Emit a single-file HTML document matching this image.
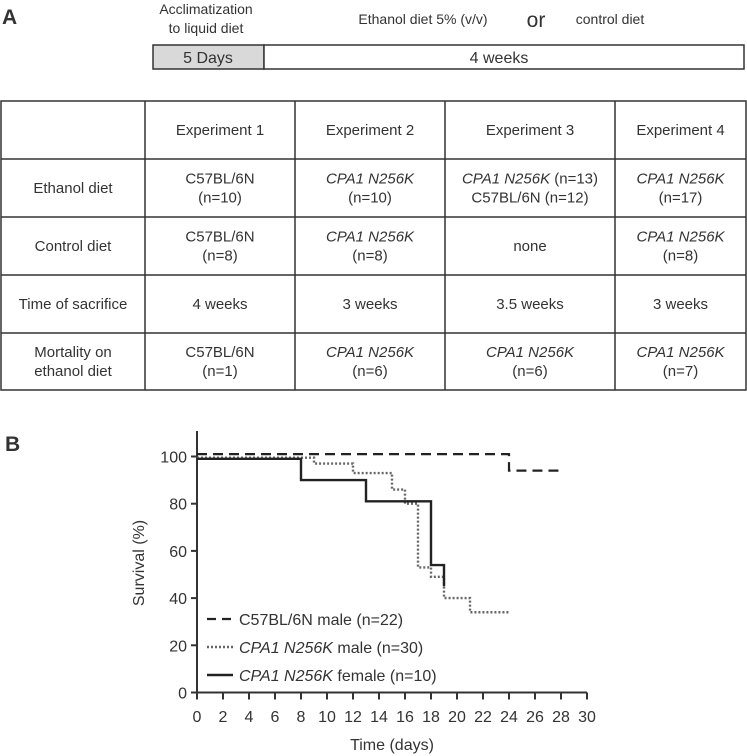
<!DOCTYPE html>
<html><head><meta charset="utf-8"><style>
html,body{margin:0;padding:0;background:#fff;}
svg{display:block;font-family:"Liberation Sans",Arial,sans-serif;}
</style></head><body>
<svg id="fig" width="747" height="756" viewBox="0 0 747 756">
<g fill="#333">
<text x="2" y="24" font-size="21" font-weight="bold">A</text>
<text x="206" y="14" font-size="14" text-anchor="middle">Acclimatization</text>
<text x="206" y="33" font-size="14" text-anchor="middle">to liquid diet</text>
<text x="423" y="24" font-size="14" text-anchor="middle">Ethanol diet 5% (v/v)</text>
<text x="536" y="27" font-size="21" text-anchor="middle">or</text>
<text x="610" y="24" font-size="14" text-anchor="middle">control diet</text>
<rect x="153" y="45" width="111" height="24" fill="#d9d9d9" stroke="#333" stroke-width="1.5"/>
<rect x="264" y="45" width="480" height="24" fill="#fff" stroke="#333" stroke-width="1.5"/>
<text x="208" y="63" font-size="16" text-anchor="middle">5 Days</text>
<text x="499" y="63" font-size="16" text-anchor="middle">4 weeks</text>
</g>
<g id="table" stroke="#333" stroke-width="1.5"></g>
<g id="chart"></g>
</svg>
<script>
var NS="http://www.w3.org/2000/svg";
function mk(tag,attrs,parent,txt){var e=document.createElementNS(NS,tag);for(var k in attrs)e.setAttribute(k,attrs[k]);if(txt!==undefined)e.textContent=txt;parent.appendChild(e);return e;}
// table
var tb=document.getElementById('table');
var colX=[1,145,295,445,615,746];
var rowY=[101,159,217,275,333,390];
mk('rect',{x:1,y:101,width:745,height:289,fill:'none'},tb);
colX.slice(1,5).forEach(function(x){mk('line',{x1:x,y1:101,x2:x,y2:390},tb);});
rowY.slice(1,5).forEach(function(y){mk('line',{x1:1,y1:y,x2:746,y2:y},tb);});
var cells=[
 [[""],[["Experiment 1",0]],[["Experiment 2",0]],[["Experiment 3",0]],[["Experiment 4",0]]],
 [[["Ethanol diet",0]],[["C57BL/6N",0],["(n=10)",0]],[["CPA1 N256K",1],["(n=10)",0]],[["CPA1 N256K|| (n=13)",2],["C57BL/6N (n=12)",0]],[["CPA1 N256K",1],["(n=17)",0]]],
 [[["Control diet",0]],[["C57BL/6N",0],["(n=8)",0]],[["CPA1 N256K",1],["(n=8)",0]],[["none",0]],[["CPA1 N256K",1],["(n=8)",0]]],
 [[["Time of sacrifice",0]],[["4 weeks",0]],[["3 weeks",0]],[["3.5 weeks",0]],[["3 weeks",0]]],
 [[["Mortality on",0],["ethanol diet",0]],[["C57BL/6N",0],["(n=1)",0]],[["CPA1 N256K",1],["(n=6)",0]],[["CPA1 N256K",1],["(n=6)",0]],[["CPA1 N256K",1],["(n=7)",0]]]
];
for(var r=0;r<5;r++){for(var c=0;c<5;c++){
 var lines=cells[r][c];if(!lines.length||lines[0]==="")continue;
 var cx=(colX[c]+colX[c+1])/2, cy=(rowY[r]+rowY[r+1])/2;
 var n=lines.length;
 lines.forEach(function(l,i){
  var y=cy+5+(i-(n-1)/2)*19;
  var t=mk('text',{x:cx,y:y,'font-size':15,'text-anchor':'middle',fill:'#333',stroke:'none'},tb);
  
  
  if(l[1]===2){var p=l[0].split('||');mk('tspan',{'font-style':'italic'},t,p[0]);mk('tspan',{},t,p[1]);}
  else if(l[1]===1){t.setAttribute('font-style','italic');t.textContent=l[0];}
  else t.textContent=l[0];
 });
}}
// chart data
var dashedDays=[0,24,28];
var dashedSurv=[101,94,94];
var dottedDays=[0,9,12,15,16,17,18,19,21,24];
var dottedSurv=[99.5,97,93,86,80,53,49,40,34,34];
var solidDays=[0,8,13,18,19];
var solidSurv=[99,90,81,54,45];
var xTicks=[0,2,4,6,8,10,12,14,16,18,20,22,24,26,28,30];
var yTicks=[0,20,40,60,80,100];
var legendLabels=[["C57BL/6N"," male (n=22)",0],["CPA1 N256K"," male (n=30)",1],["CPA1 N256K"," female (n=10)",1]];
var ch=document.getElementById('chart');
function X(d){return 197+d*13;}
function Y(v){return 692.5-v*2.36;}
mk('text',{x:5,y:451,'font-size':21,'font-weight':'bold',fill:'#333',},ch,'B');
var ax=mk('path',{d:'M'+X(0)+' 431 V'+Y(0)+' H'+X(30),stroke:'#333','stroke-width':2,fill:'none'},ch);


yTicks.forEach(function(v){
 var l=mk('line',{x1:X(0)-6,x2:X(0),y1:Y(v),y2:Y(v),stroke:'#333','stroke-width':2},ch);
 
 
 var t=mk('text',{x:X(0)-10,y:Y(v)+6,'font-size':16,'text-anchor':'end',fill:'#333'},ch,String(v));
 
 
});
xTicks.forEach(function(d){
 var l=mk('line',{x1:X(d),x2:X(d),y1:Y(0),y2:Y(0)+7,stroke:'#333','stroke-width':2},ch);
 
 
 var t=mk('text',{x:X(d),y:722,'font-size':16,'text-anchor':'middle',fill:'#333'},ch,String(d));
 
 
});
var xt=mk('text',{x:392,y:750,'font-size':16,'text-anchor':'middle',fill:'#333'},ch,'Time (days)');


var yt=mk('text',{x:0,y:0,'font-size':16,'text-anchor':'middle',fill:'#333',transform:'translate(144,563) rotate(-90)'},ch,'Survival (%)');


function stepPath(ds,vs){var d='M'+X(ds[0])+' '+Y(vs[0]);for(var i=1;i<ds.length;i++){d+=' H'+X(ds[i])+' V'+Y(vs[i]);}return d;}
var styles=[{dash:'10,6',w:2.2},{dash:'2,2',w:2.4},{dash:'none',w:2.4}];
var colors=['#222','#666','#222'];
var s1=mk('path',{d:stepPath(dottedDays,dottedSurv),fill:'none',stroke:colors[1],'stroke-width':styles[1].w,'stroke-dasharray':styles[1].dash},ch);


var s0=mk('path',{d:stepPath(dashedDays,dashedSurv),fill:'none',stroke:colors[0],'stroke-width':styles[0].w,'stroke-dasharray':styles[0].dash},ch);


var s2=mk('path',{d:stepPath(solidDays,solidSurv),fill:'none',stroke:colors[2],'stroke-width':styles[2].w},ch);


var legY=[619,647,675];
legendLabels.forEach(function(lb,i){
 var l=mk('line',{x1:207,x2:233,y1:legY[i],y2:legY[i],stroke:colors[i],'stroke-width':styles[i].w,'stroke-dasharray':i==0?'9,6':styles[i].dash},ch);
 
 
 var t=mk('text',{x:239,y:legY[i]+6,'font-size':16,fill:'#333'},ch);
 
 
 mk('tspan',lb[2]?{'font-style':'italic'}:{},t,lb[0]);
 mk('tspan',{},t,lb[1]);
});
</script>
</body></html>
